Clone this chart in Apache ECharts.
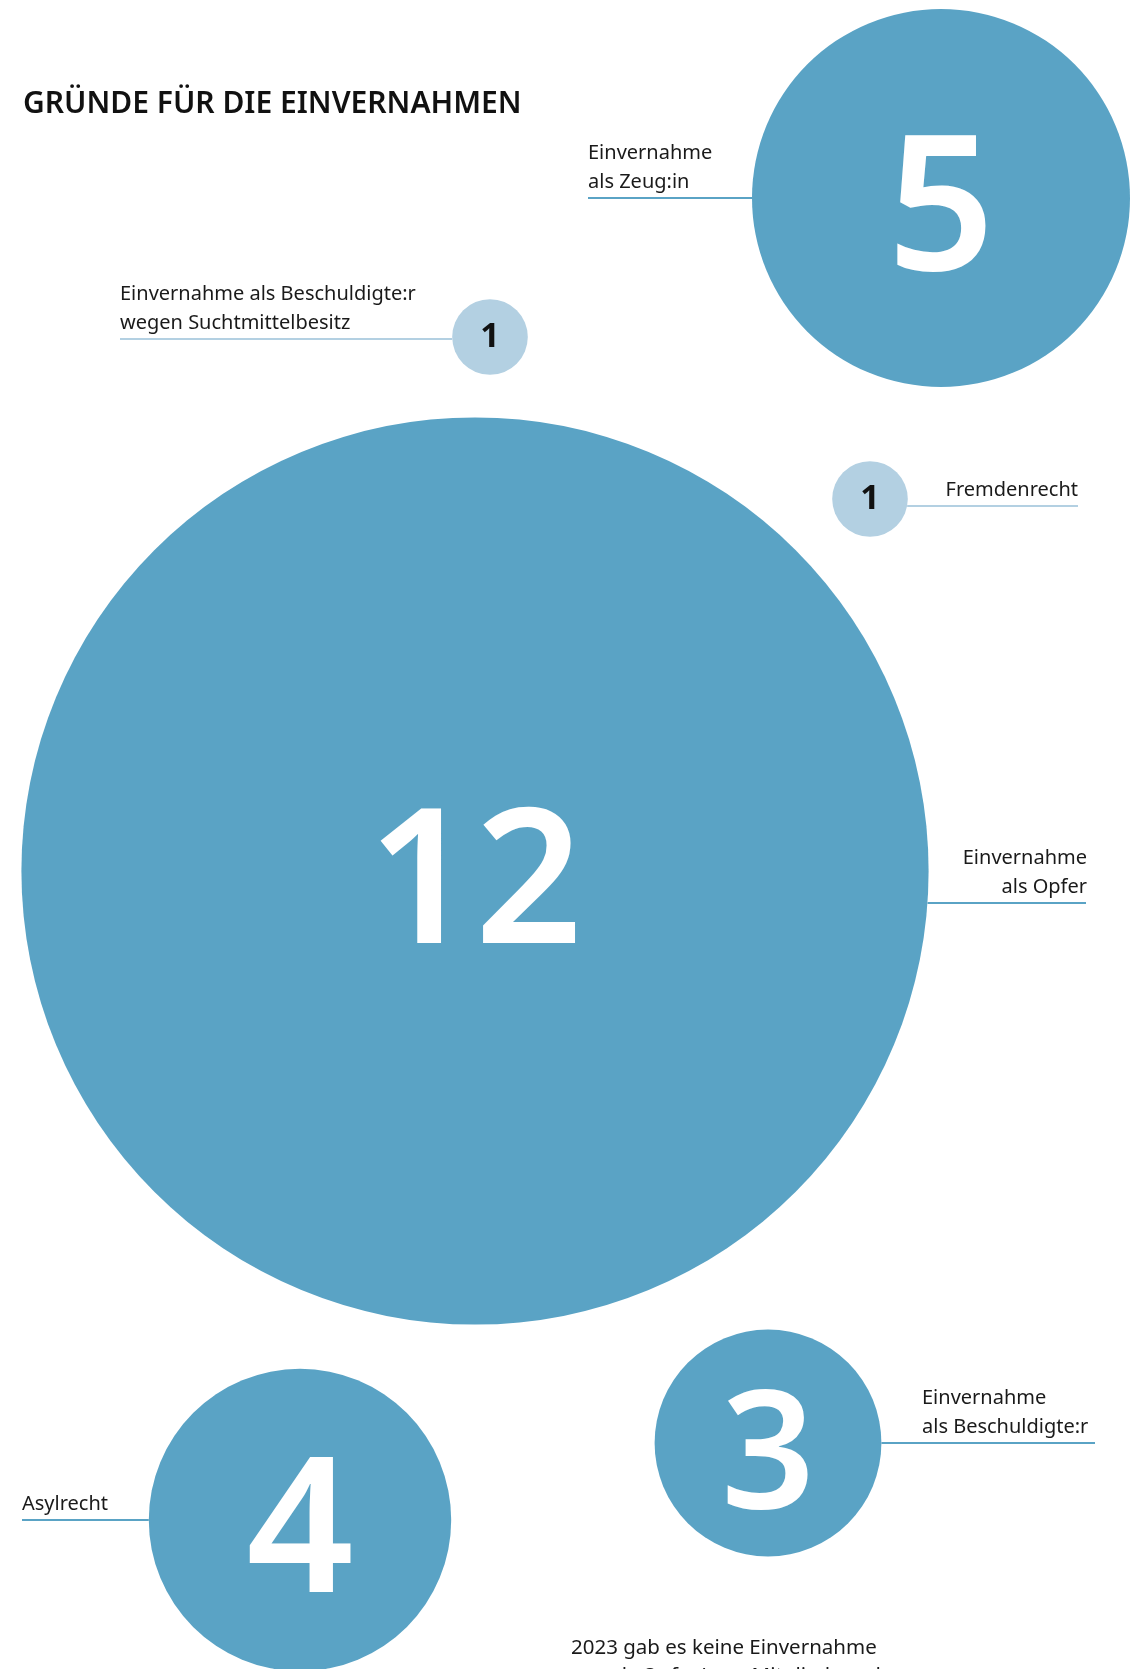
<!DOCTYPE html>
<html lang="de">
<head>
<meta charset="utf-8">
<title>Gründe für die Einvernahmen</title>
<script src="https://cdn.jsdelivr.net/npm/echarts/dist/echarts.min.js"></script>
<style>
  html, body { margin: 0; padding: 0; background: #fff; }
  #main { width: 1134px; height: 1669px; }
</style>
</head>
<body>
<div id="main"></div>
<script>
// Daten: Gründe und Anzahl der Einvernahmen
const reasons = [
  'Einvernahme\nals Opfer',
  'Einvernahme\nals Zeug:in',
  'Asylrecht',
  'Einvernahme\nals Beschuldigte:r',
  'Einvernahme als Beschuldigte:r\nwegen Suchtmittelbesitz',
  'Fremdenrecht'
];
const counts = [12, 5, 4, 3, 1, 1];

// Layout der Blasen und Beschriftungen (Achseneinheiten)
const bubbleX = [475, 941, 300, 768, 490, 870];
const bubbleY = [871, 198, 1520, 1443, 337, 499];
const leaderY = [903, 198, 1520, 1443, 339, 506];
const leaderEndX = [1086, 588, 22, 1095, 120, 1078];
const labelX = [1087, 588, 22, 922, 120, 1078];
const labelAlign = ['right', 'left', 'left', 'left', 'left', 'right'];

const note = '2023 gab es keine Einvernahme\nnur als Opfer/ von Mitgliedern der';

const unitPerCase = 75.6; // Durchmesser pro Fall
const blue = '#5aa3c5';
const lightBlue = '#b3d0e2';
const font = '"Noto Sans", "Open Sans", sans-serif';

const chart = echarts.init(document.getElementById('main'));

const option = {
  animation: false,
  title: {
    text: 'GRÜNDE FÜR DIE EINVERNAHMEN',
    left: 18,
    top: 84,
    textStyle: { fontSize: 30, fontWeight: 600, color: '#111', fontFamily: font }
  },
  grid: { left: 0, right: 0, top: 0, bottom: 0 },
  xAxis: { type: 'value', min: 0, max: 1134, show: false },
  yAxis: { type: 'value', min: 0, max: 1669, inverse: true, show: false },
  graphic: [{
    type: 'text',
    left: 571,
    top: 1634,
    style: { text: note, fontSize: 20.5, lineHeight: 28, fontFamily: font, fill: '#1a1a1a' }
  }],
  series: [{
    type: 'custom',
    clip: false,
    data: counts.map((v, i) => [bubbleX[i], bubbleY[i], v]),
    renderItem: function (params, api) {
      const i = params.dataIndex;
      const c = api.coord([api.value(0), api.value(1)]);
      const r = api.size([api.value(2) * unitPerCase / 2, 0])[0];
      const small = api.value(2) < 2;
      const fill = small ? lightBlue : blue;
      const numSize = small ? 34 : Math.min(188, r * 1.45);

      const ly = api.coord([0, leaderY[i]])[1];
      const dy = ly - c[1];
      const half = Math.sqrt(Math.max(r * r - dy * dy, 0));
      const endX = api.coord([leaderEndX[i], 0])[0];
      const startX = endX > c[0] ? c[0] + half : c[0] - half;
      const tx = api.coord([labelX[i], 0])[0];

      return {
        type: 'group',
        children: [
          { type: 'circle', shape: { cx: c[0], cy: c[1], r: r }, style: { fill: fill } },
          {
            type: 'text',
            style: {
              text: String(api.value(2)),
              x: c[0], y: c[1] + (small ? 0 : 18),
              align: 'center', verticalAlign: 'middle',
              fill: small ? '#111' : '#fff',
              fontFamily: font,
              fontWeight: small ? 'bold' : 600,
              fontSize: numSize
            }
          },
          {
            type: 'line',
            shape: { x1: startX, y1: ly, x2: endX, y2: ly },
            style: { stroke: fill, lineWidth: 2 }
          },
          {
            type: 'text',
            style: {
              text: reasons[i],
              x: tx, y: ly - 1.5,
              align: labelAlign[i], verticalAlign: 'bottom',
              fontSize: 20, lineHeight: 29,
              fontFamily: font, fill: '#1a1a1a'
            }
          }
        ]
      };
    }
  }]
};

chart.setOption(option);
</script>
</body>
</html>
